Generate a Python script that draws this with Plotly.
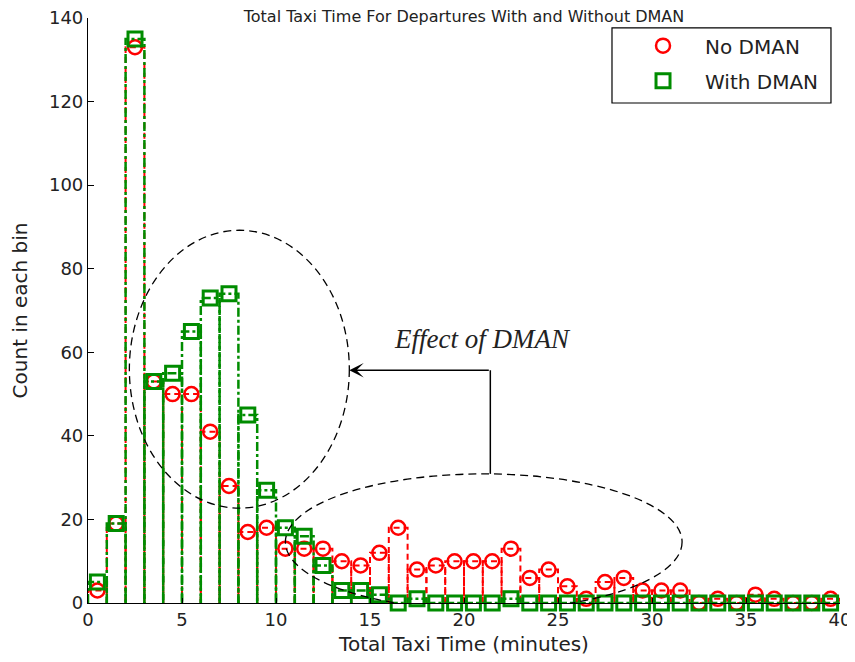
import plotly.graph_objects as go

# ---- data ----
bin_centers = [i + 0.5 for i in range(40)]
no_dman = [3, 19, 133, 53, 50, 50, 41, 28, 17, 18,
           13, 13, 13, 10, 9, 12, 18, 8, 9, 10,
           10, 10, 13, 6, 8, 4, 1, 5, 6, 3,
           3, 3, 0, 1, 0, 2, 1, 0, 0, 1]
with_dman = [5, 19, 135, 53, 55, 65, 73, 74, 45, 27,
             18, 16, 9, 3, 3, 2, 0, 1, 0, 0,
             0, 0, 1, 0, 0, 0, 0, 0, 0, 0,
             0, 0, 0, 0, 0, 0, 0, 0, 0, 0]
bin_width = 1.0
x_ticks = [0, 5, 10, 15, 20, 25, 30, 35, 40]
y_ticks = [0, 20, 40, 60, 80, 100, 120, 140]

RED = "#ff0000"
GREEN = "#008c00"
FONT = "DejaVu Sans"


def bar_outline(centers, heights, w):
    xs, ys = [], []
    for c, h in zip(centers, heights):
        l, r = c - w / 2, c + w / 2
        xs += [l, l, r, r, None]
        ys += [0, h, h, 0, None]
    return xs, ys


fig = go.Figure()

rx, ry = bar_outline(bin_centers, no_dman, bin_width)
gx, gy = bar_outline(bin_centers, with_dman, bin_width)

fig.add_trace(go.Scatter(x=rx, y=ry, mode="lines", showlegend=False,
                         line=dict(color=RED, width=2, dash="6px,4px"),
                         hoverinfo="skip"))
fig.add_trace(go.Scatter(x=bin_centers, y=no_dman, mode="markers", name="No DMAN",
                         legendgroup="a",
                         marker=dict(symbol="circle-open", size=14, color=RED,
                                     line=dict(width=2.5, color=RED)),
                         cliponaxis=False))
fig.add_trace(go.Scatter(x=gx, y=gy, mode="lines", showlegend=False,
                         line=dict(color=GREEN, width=2.5, dash="dashdot"),
                         hoverinfo="skip"))
fig.add_trace(go.Scatter(x=bin_centers, y=with_dman, mode="markers", name="With DMAN",
                         legendgroup="b",
                         marker=dict(symbol="square-open", size=14, color=GREEN,
                                     line=dict(width=3, color=GREEN)),
                         cliponaxis=False))

# annotations: ellipses, arrow, label
fig.add_shape(type="circle", xref="x", yref="y", x0=2.2, x1=13.9, y0=22.7, y1=89.2,
              line=dict(color="black", width=1.3, dash="8px,5px"))
fig.add_shape(type="circle", xref="x", yref="y", x0=10.5, x1=31.6, y0=-1.7, y1=30.9,
              line=dict(color="black", width=1.3, dash="8px,5px"))
fig.add_shape(type="line", xref="x", yref="y", x0=21.4, x1=21.4, y0=55.7, y1=30.9,
              line=dict(color="black", width=1.5))
fig.add_annotation(x=13.9, y=55.7, ax=21.4, ay=55.7, xref="x", yref="y",
                   axref="x", ayref="y", text="", showarrow=True,
                   arrowhead=3, arrowsize=1.6, arrowwidth=1.5, arrowcolor="black")
fig.add_annotation(x=21.0, y=63.2, xref="x", yref="y", text="<i>Effect of DMAN</i>",
                   showarrow=False,
                   font=dict(family="Liberation Serif", size=27, color="#222222"))

# legend border box
fig.add_shape(type="rect", xref="paper", yref="paper", x0=0.6968, x1=0.988,
              y0=0.8547, y1=0.983, line=dict(color="black", width=1.2),
              fillcolor="white", layer="below")

fig.update_layout(
    width=855, height=662,
    margin=dict(l=80, r=23, t=10, b=67, autoexpand=False),
    paper_bgcolor="white", plot_bgcolor="white",
    font=dict(family=FONT, size=19, color="#222222"),
    title=dict(text="Total Taxi Time For Departures With and Without DMAN",
               x=0.5, xref="paper", xanchor="center",
               y=1.0, yref="container", yanchor="top", pad=dict(t=3),
               automargin=False,
               font=dict(family=FONT, size=16, color="#222222")),
    legend=dict(x=0.7088, xanchor="left", y=0.986, yanchor="top",
                bgcolor="rgba(0,0,0,0)", borderwidth=0,
                font=dict(family=FONT, size=20, color="#222222"),
                itemwidth=74, tracegroupgap=6),
    showlegend=True,
)
fig.update_xaxes(range=[0, 40], tickvals=x_ticks, ticks="inside", ticklen=5,
                 tickcolor="black", showline=True, linecolor="black", linewidth=1,
                 showgrid=False, zeroline=False, mirror=False, automargin=False,
                 tickfont=dict(size=18), ticklabeloverflow="allow",
                 title=dict(text="Total Taxi Time (minutes)", standoff=8,
                            font=dict(size=20)))
fig.update_yaxes(range=[0, 140], tickvals=y_ticks, ticks="inside", ticklen=6,
                 tickcolor="black", showline=True, linecolor="black", linewidth=1.2,
                 showgrid=False, zeroline=False, mirror=False, automargin=False,
                 tickfont=dict(size=18), ticklabeloverflow="allow",
                 title=dict(text="Count in each bin", standoff=15,
                            font=dict(size=20)))

fig.write_html("out.html")
